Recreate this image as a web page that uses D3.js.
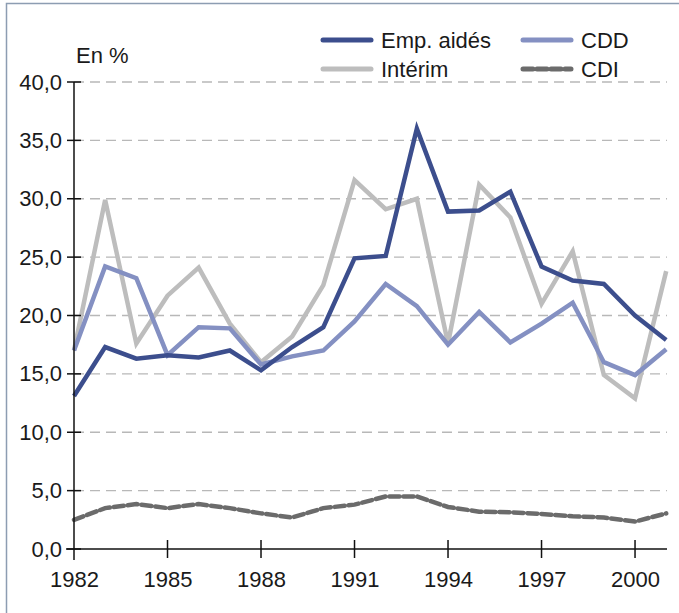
<!DOCTYPE html>
<html><head><meta charset="utf-8">
<script src="https://cdn.jsdelivr.net/npm/d3@7"></script>
<style>
body{margin:0;background:#fff;}
text{font-family:"Liberation Sans",Arial,sans-serif;fill:#1a1a1a;}
</style></head>
<body><svg id="c" width="679" height="613"></svg>
<script>
const years = [1982,1983,1984,1985,1986,1987,1988,1989,1990,1991,1992,1993,1994,1995,1996,1997,1998,1999,2000,2001];
const empAides = [13.1,17.3,16.3,16.6,16.4,17.0,15.3,17.3,19.0,24.9,25.1,36.0,28.9,29.0,30.6,24.2,23.0,22.7,20.0,17.9];
const cdd      = [17.0,24.2,23.2,16.6,19.0,18.9,15.8,16.5,17.0,19.5,22.7,20.8,17.5,20.3,17.7,19.3,21.1,16.0,14.9,17.1];
const interim  = [17.0,29.9,17.6,21.7,24.1,19.3,16.0,18.2,22.6,31.6,29.1,30.0,17.6,31.2,28.4,21.0,25.5,14.9,12.9,23.8];
const cdi      = [2.5,3.5,3.85,3.5,3.85,3.5,3.05,2.7,3.5,3.8,4.5,4.5,3.6,3.2,3.15,3.0,2.8,2.7,2.35,3.05];
const xTicks = [1982,1985,1988,1991,1994,1997,2000];
const yTicks = [0,5,10,15,20,25,30,35,40];

const series = [
  {name:"Intérim", values:interim, color:"#bdbdbd", width:4.5, dash:null},
  {name:"CDD", values:cdd, color:"#8490c2", width:4.5, dash:null},
  {name:"Emp. aidés", values:empAides, color:"#3c4e8d", width:4.5, dash:null},
  {name:"CDI", values:cdi, color:"#6b6b6b", width:4.5, dash:"10,4"}
];

const svg = d3.select("#c");
const x = d3.scaleLinear().domain([1982,2001]).range([74,666.2]);
const y = d3.scaleLinear().domain([0,40]).range([549,82]);
const fmt = v => d3.format(".1f")(v).replace(".",",");

// frame
svg.append("path").attr("d","M6.5,613 V3.5 H679").attr("fill","none").attr("stroke","#8d9db2").attr("stroke-width",1.5);

// grid
svg.append("g").selectAll("line").data(yTicks.filter(d=>d>0)).join("line")
  .attr("x1",x(1982)).attr("x2",667).attr("y1",d=>y(d)).attr("y2",d=>y(d))
  .attr("stroke","#b8b8b8").attr("stroke-width",1.3).attr("stroke-dasharray","10,6");

// lines
const line = d3.line().x((d,i)=>x(years[i])).y(d=>y(d));
series.forEach(s=>{
  svg.append("path").datum(s.values).attr("d",line)
    .attr("fill","none").attr("stroke",s.color).attr("stroke-width",s.width)
    .attr("stroke-linejoin","miter").attr("stroke-linecap", s.dash? "round":"butt")
    .attr("stroke-dasharray",s.dash);
});

// y axis
const yAxis = d3.axisLeft(y).tickValues(yTicks).tickFormat(fmt).tickSize(0).tickPadding(12);
const gy = svg.append("g").attr("transform",`translate(${x(1982)},0)`).call(yAxis);
gy.select(".domain").remove();
gy.selectAll("text").attr("font-size",22).attr("font-family","Liberation Sans, Arial, sans-serif").attr("fill","#1a1a1a");
svg.append("line").attr("x1",x(1982)).attr("x2",x(1982)).attr("y1",y(40)).attr("y2",560).attr("stroke","#111").attr("stroke-width",1.5);
svg.append("g").selectAll("line").data(yTicks).join("line")
  .attr("x1",x(1982)-7).attr("x2",x(1982)+7).attr("y1",d=>y(d)).attr("y2",d=>y(d))
  .attr("stroke","#111").attr("stroke-width",1.5);

// x axis
const xAxis = d3.axisBottom(x).tickValues(xTicks).tickFormat(d3.format("d")).tickSize(0).tickPadding(22);
const gx = svg.append("g").attr("transform",`translate(0,${y(0)})`).call(xAxis);
gx.select(".domain").remove();
gx.selectAll("text").attr("font-size",22).attr("font-family","Liberation Sans, Arial, sans-serif").attr("fill","#1a1a1a");
svg.append("line").attr("x1",x(1982)-8).attr("x2",667).attr("y1",y(0)).attr("y2",y(0)).attr("stroke","#111").attr("stroke-width",1.5);
svg.append("g").selectAll("line").data(xTicks.slice(1)).join("line")
  .attr("x1",d=>x(d)).attr("x2",d=>x(d)).attr("y1",y(0)-9).attr("y2",y(0)+9)
  .attr("stroke","#111").attr("stroke-width",1.5);

// unit label
svg.append("text").attr("x",76).attr("y",63).attr("font-size",22).text("En %");

// legend
const legend = [
  {s:series[2], lx:323, ly:40},
  {s:series[1], lx:523, ly:40},
  {s:series[0], lx:323, ly:69},
  {s:series[3], lx:523, ly:69}
];
legend.forEach(l=>{
  svg.append("line").attr("x1",l.lx).attr("x2",l.lx+48).attr("y1",l.ly).attr("y2",l.ly)
    .attr("stroke",l.s.color).attr("stroke-width",5)
    .attr("stroke-dasharray",l.s.dash).attr("stroke-linecap",l.s.dash?"round":"round");
  svg.append("text").attr("x",l.lx+58).attr("y",l.ly+8).attr("font-size",22).text(l.s.name);
});
</script></body></html>
